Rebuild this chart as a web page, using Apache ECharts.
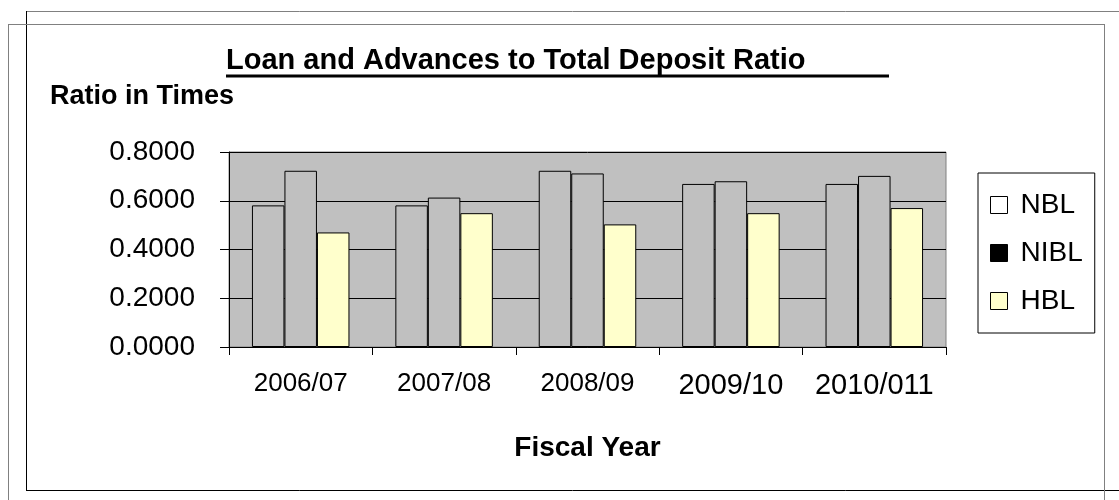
<!DOCTYPE html>
<html>
<head>
<meta charset="utf-8">
<script src="https://cdn.jsdelivr.net/npm/echarts@6/dist/echarts.min.js"></script>
<style>
  html, body { margin: 0; padding: 0; background: #fff; }
  #chart { width: 1119px; height: 500px; }
</style>
</head>
<body>
<div id="chart"></div>
<script>
var years = ['2006/07', '2007/08', '2008/09', '2009/10', '2010/011'];
var nbl = [0.581, 0.581, 0.723, 0.669, 0.669];
var nibl = [0.723, 0.613, 0.712, 0.680, 0.702];
var hbl = [0.470, 0.549, 0.503, 0.549, 0.570];
var yTicks = [0, 0.2, 0.4, 0.6, 0.8];

var font = 'Liberation Sans, Arial, sans-serif';

// the last two year labels are drawn a bit bigger in the original
var yearData = years.map(function(y, i) {
  return { value: y, textStyle: { fontSize: i < 3 ? 26 : 29 } };
});

function barSeries(name, data, color) {
  return {
    name: name,
    type: 'bar',
    data: data,
    barGap: '0%',
    barCategoryGap: '32%',
    itemStyle: { color: color, borderColor: '#000', borderWidth: 1 },
  };
}

var chart = echarts.init(document.getElementById('chart'));
chart.setOption({
  animation: false,
  backgroundColor: '#fff',
  textStyle: { fontFamily: font },
  title: [
    {
      text: 'Loan and Advances to Total Deposit Ratio',
      left: 226,
      top: 46,
      padding: 0,
      textStyle: { fontFamily: font, fontSize: 29, fontWeight: 'bold', color: '#000' },
    },
    {
      text: 'Ratio in Times',
      left: 50,
      top: 83,
      padding: 0,
      textStyle: { fontFamily: font, fontSize: 27, fontWeight: 'bold', color: '#000' },
    },
  ],
  legend: {
    orient: 'vertical',
    left: 978,
    top: 173,
    padding: [18, 12, 18, 12],
    itemWidth: 17,
    itemHeight: 17,
    itemGap: 20,
    borderColor: '#000',
    borderWidth: 1,
    icon: 'rect',
    textStyle: { fontFamily: font, fontSize: 28, color: '#000', padding: [0, 0, 0, 8] },
    data: [
      { name: 'NBL', itemStyle: { color: '#fff', borderColor: '#000', borderWidth: 1 } },
      { name: 'NIBL', itemStyle: { color: '#000', borderColor: '#000', borderWidth: 1 } },
      { name: 'HBL', itemStyle: { color: '#ffffcc', borderColor: '#000', borderWidth: 1 } },
    ],
  },
  grid: {
    left: 229,
    right: 173,
    top: 152,
    bottom: 153,
    show: true,
    backgroundColor: '#c0c0c0',
    borderColor: '#808080',
    borderWidth: 1,
  },
  xAxis: {
    type: 'category',
    data: yearData,
    name: 'Fiscal Year',
    nameLocation: 'middle',
    nameGap: 87,
    nameTextStyle: { fontFamily: font, fontSize: 28, fontWeight: 'bold', color: '#000' },
    axisLine: { lineStyle: { color: '#000', width: 1 } },
    axisTick: { show: true, length: 8, lineStyle: { color: '#000' } },
    axisLabel: { margin: 24, color: '#000', fontFamily: font, fontSize: 26 },
  },
  yAxis: {
    type: 'value',
    min: yTicks[0],
    max: yTicks[yTicks.length - 1],
    interval: 0.2,
    axisLine: { show: true, lineStyle: { color: '#000', width: 1 } },
    axisTick: { show: true, length: 9, lineStyle: { color: '#000' } },
    axisLabel: {
      margin: 34,
      color: '#000',
      fontFamily: font,
      fontSize: 28,
      formatter: function(v) { return v.toFixed(4); },
    },
    splitLine: { show: true, lineStyle: { color: '#000', width: 1 } },
  },
  series: [
    barSeries('NBL', nbl, '#c0c0c0'),
    barSeries('NIBL', nibl, '#c0c0c0'),
    barSeries('HBL', hbl, '#ffffcc'),
  ],
  graphic: [
    // title underline runs past the text
    { type: 'line', shape: { x1: 226, y1: 76, x2: 889, y2: 76 }, style: { stroke: '#000', lineWidth: 3 } },
    // the two overlapping frames around the chart
    { type: 'line', shape: { x1: 26, y1: 11.5, x2: 1119, y2: 11.5 }, style: { stroke: '#808080', lineWidth: 1 } },
    { type: 'line', shape: { x1: 26.5, y1: 11, x2: 26.5, y2: 491 }, style: { stroke: '#000', lineWidth: 1 } },
    { type: 'line', shape: { x1: 26, y1: 490.5, x2: 1119, y2: 490.5 }, style: { stroke: '#000', lineWidth: 1 } },
    { type: 'line', shape: { x1: 8, y1: 24.5, x2: 1104, y2: 24.5 }, style: { stroke: '#808080', lineWidth: 1 } },
    { type: 'line', shape: { x1: 8.5, y1: 24, x2: 8.5, y2: 500 }, style: { stroke: '#808080', lineWidth: 1 } },
    { type: 'line', shape: { x1: 1104.5, y1: 24, x2: 1104.5, y2: 500 }, style: { stroke: '#808080', lineWidth: 1 } },
  ],
});
</script>
</body>
</html>
